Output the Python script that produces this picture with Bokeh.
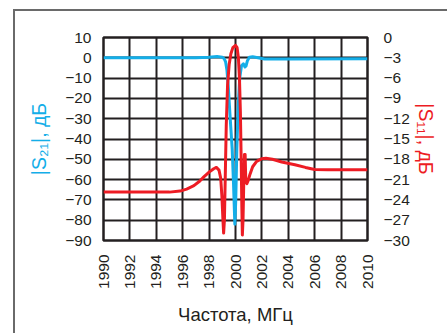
import math
from bokeh.plotting import figure
from bokeh.models import Range1d, LinearAxis, FixedTicker
from bokeh.embed import file_html
from bokeh.resources import INLINE

# ---- data ----
x_ticks = [1990, 1992, 1994, 1996, 1998, 2000, 2002, 2004, 2006, 2008, 2010]
s21_ticks = [10, 0, -10, -20, -30, -40, -50, -60, -70, -80, -90]
s11_ticks = [0, -3, -6, -9, -12, -15, -18, -21, -24, -27, -30]

freq_s21 = [1990, 1997, 1998, 1998.6, 1999.0, 1999.15, 1999.25, 1999.35, 1999.45,
            1999.6, 1999.75, 1999.85, 1999.95, 2000.02, 2000.1, 2000.2, 2000.32,
            2000.45, 2000.6, 2000.72, 2000.8, 2000.9, 2001.05, 2001.3, 2001.7,
            2002.2, 2004, 2010]
s21_db = [0, 0, 0.3, 0.6, 0.3, -0.5, -2, -6, -14,
          -30, -45, -62, -82, -70, -45, -25, -10,
          -4, -3, -4.5, -4, -1.5, 0.3, 0.5, 0,
          -0.6, -0.6, -0.5]

freq_s11 = [1990, 1995, 1995.8, 1996.3, 1996.85, 1997.3, 1997.6, 1998.0, 1998.35,
            1998.55, 1998.75, 1998.88, 1998.97, 1999.05, 1999.1, 1999.16, 1999.22,
            1999.3, 1999.4, 1999.52, 1999.65, 1999.8, 2000.0, 2000.12, 2000.22,
            2000.3, 2000.37, 2000.43, 2000.48, 2000.52, 2000.57, 2000.63, 2000.68,
            2000.73, 2000.78, 2000.86, 2000.95, 2001.1, 2001.3, 2001.6, 2002.0,
            2002.3, 2002.8, 2003.5, 2004.5, 2005.3, 2006.0, 2007, 2010]
s11_db = [-22.85, -22.85, -22.7, -22.4, -21.9, -21.2, -20.6, -19.9, -19.4,
          -19.2, -19.6, -20.8, -23.5, -27, -28.9, -27, -21,
          -13, -7, -4, -2.4, -1.5, -1.15, -1.5, -3,
          -6, -11, -18, -25, -29.2, -27, -21, -17.3,
          -17.3, -21.3, -21.6, -21.2, -20.2, -19.1, -18.3, -17.9,
          -17.85, -18.0, -18.4, -18.8, -19.2, -19.5, -19.55, -19.55]

BLUE = "#14aee8"
RED = "#ed1c24"
GRID = "#231f20"
FONT = "Liberation Sans"

def minus(v):
    return str(v).replace("-", "\u2212")

p = figure(frame_width=264, frame_height=203,
           x_range=Range1d(1990, 2010), y_range=Range1d(-90, 10),
           output_backend="svg", toolbar_location=None,
           min_border_left=88, min_border_right=80,
           min_border_top=26, min_border_bottom=93)
p.extra_y_ranges = {"s11": Range1d(-30, 0)}
p.margin = (11, 0, 0, 15)
p.styles = {"outline": "2px solid #6a6a6a", "outline-offset": "0px"}

p.outline_line_color = GRID
p.outline_line_width = 2.5
p.background_fill_color = "white"
p.border_fill_color = "white"

p.xgrid.ticker = FixedTicker(ticks=x_ticks)
p.ygrid.ticker = FixedTicker(ticks=s21_ticks)
for g in (p.xgrid, p.ygrid):
    g.grid_line_color = GRID
    g.grid_line_width = 2
    g.grid_line_alpha = 1

def style_axis(ax):
    ax.axis_line_color = None
    ax.major_tick_line_color = None
    ax.minor_tick_line_color = None
    ax.major_label_text_font = FONT
    ax.major_label_text_font_size = "15.5px"
    ax.major_label_text_color = "#231f20"
    ax.axis_label_text_font = FONT
    ax.axis_label_text_font_style = "normal"
    ax.axis_label_text_font_size = "19.5px"

xa = p.xaxis[0]
xa.ticker = FixedTicker(ticks=x_ticks)
xa.major_label_orientation = math.pi / 2
xa.major_label_standoff = 8
xa.axis_label = "Частота, МГц"
xa.axis_label_standoff = 12
style_axis(xa)
xa.axis_label_text_font_size = "18.5px"
xa.axis_label_text_color = "#231f20"

ya = p.yaxis[0]
ya.ticker = FixedTicker(ticks=s21_ticks)
ya.major_label_overrides = {v: minus(v) for v in s21_ticks}
ya.major_label_standoff = 6
ya.axis_label = "|S\u2082\u2081|, дБ"
ya.axis_label_standoff = 12
style_axis(ya)
ya.axis_label_text_color = BLUE

ra = LinearAxis(y_range_name="s11")
ra.ticker = FixedTicker(ticks=s11_ticks)
ra.major_label_overrides = {v: minus(v) for v in s11_ticks}
ra.major_label_standoff = 10
ra.major_label_text_align = "right"
ra.axis_label = "|S\u2081\u2081|, дБ"
ra.axis_label_standoff = 2
style_axis(ra)
ra.axis_label_text_color = RED
p.add_layout(ra, "right")

p.line(freq_s21, s21_db, line_color=BLUE, line_width=3, line_join="round")
p.line(freq_s11, s11_db, y_range_name="s11", line_color=RED, line_width=3,
       line_join="round")

open("out.html", "w").write(file_html(p, INLINE))
